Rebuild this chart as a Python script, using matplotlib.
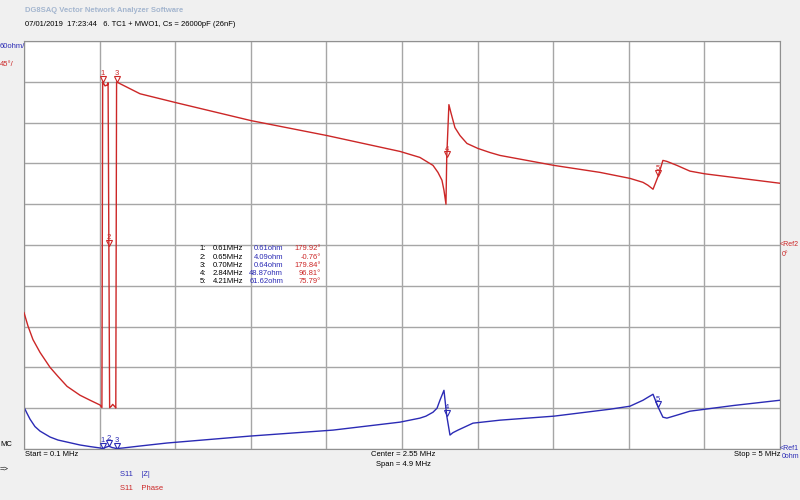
import matplotlib
matplotlib.use("Agg")
import matplotlib.pyplot as plt
import matplotlib.transforms as mtransforms

# sweep 0.1 .. 5 MHz, |Z| in ohm (trace 1), S11 phase in degrees (trace 2)
z_freq = [0.100, 0.119, 0.139, 0.171, 0.204, 0.236, 0.269, 0.320, 0.379, 0.463,
          0.530, 0.593, 0.61, 0.63, 0.65, 0.67, 0.70, 0.742, 0.852, 1.027,
          1.565, 2.103, 2.537, 2.666, 2.705, 2.751, 2.777, 2.796, 2.809, 2.822,
          2.84, 2.861, 2.880, 2.913, 3.010, 3.185, 3.535, 3.898, 4.027, 4.112,
          4.144, 4.177, 4.21, 4.241, 4.267, 4.332, 4.416, 4.70, 5.00]
z_ohm = [61.5, 52.7, 43.9, 33.0, 26.3, 22.0, 17.6, 13.2, 10.2, 5.9,
         3.5, 1.5, 0.61, 2.5, 4.09, 2.2, 0.64, 1.5, 4.4, 8.8,
         19.0, 27.8, 39.5, 45.4, 48.3, 54.1, 60.0, 71.7, 79.0, 86.3,
         48.87, 20.5, 24.0, 27.8, 38.0, 42.4, 48.3, 58.5, 62.9, 71.7,
         76.1, 80.5, 61.62, 46.8, 45.4, 49.8, 55.6, 64.0, 71.7]

ph_freq = [0.100, 0.126, 0.158, 0.204, 0.269, 0.320, 0.379, 0.463, 0.528, 0.593,
           0.605, 0.61, 0.625, 0.64, 0.645, 0.65, 0.655, 0.665, 0.675, 0.69,
           0.695, 0.70, 0.852, 1.085, 1.571, 2.064, 2.537, 2.666, 2.751, 2.783,
           2.809, 2.822, 2.835, 2.84, 2.854, 2.867, 2.893, 2.926, 2.971, 3.042,
           3.120, 3.185, 3.535, 3.833, 4.027, 4.112, 4.144, 4.177, 4.21, 4.241,
           4.267, 4.332, 4.416, 4.513, 5.00]
ph_deg = [-74.6, -89.5, -104.3, -118.5, -135.0, -144.9, -155.9, -165.7, -171.2, -176.5,
          -179.3, 179.92, 175.5, 176.5, 179.0, -0.76, -179.5, -178.0, -175.8, -178.5,
          -179.9, 179.84, 166.8, 157.0, 137.2, 120.7, 103.2, 96.6, 87.8, 80.1,
          71.4, 60.4, 45.0, 96.81, 154.8, 146.0, 129.5, 120.7, 112.0, 106.5,
          102.0, 98.8, 87.8, 80.1, 73.5, 69.1, 65.9, 61.5, 75.79, 93.3,
          92.2, 87.8, 81.5, 78.5, 68.1]

# marker table
mk_freq = [0.61, 0.65, 0.70, 2.84, 4.21]
mk_ohm = [0.61, 4.09, 0.64, 48.87, 61.62]
mk_deg = [179.92, -0.76, 179.84, 96.81, 75.79]

BLUE = "#2b2bb5"
RED = "#cc2727"
BG = "#f0f0f0"
FONT = "Liberation Sans"

W, H = 800, 500
fig = plt.figure(figsize=(W / 100, H / 100), dpi=100, facecolor=BG)


def px(x, y):
    # pixel position (from top-left) -> figure fraction
    return x / W, 1 - y / H


def label(x, y, s, color="black", ha="left", size=5.5, weight="normal"):
    fx, fy = px(x, y)
    fig.text(fx, fy, s, color=color, ha=ha, va="center", fontsize=size,
             fontweight=weight, family=FONT)


left, right, top, bottom = 24, 780, 41, 449
ax = fig.add_axes([left / W, 1 - bottom / H, (right - left) / W, (bottom - top) / H])
ax.set_facecolor("white")
ax.set_xlim(0.1, 5.0)
ax.set_ylim(0, 600)
ax.set_xticks([0.1 + 0.49 * i for i in range(11)])
ax.set_yticks([60 * i for i in range(11)])
ax.tick_params(length=0, labelbottom=False, labelleft=False)
ax.grid(True, color="#a6a6a6", lw=1)
for s in ax.spines.values():
    s.set_color("#909090")

ax2 = ax.twinx()
ax2.set_ylim(-225, 225)
ax2.set_yticks([])
for s in ax2.spines.values():
    s.set_visible(False)

ax.plot(z_freq, z_ohm, color=BLUE, lw=1)
ax2.plot(ph_freq, ph_deg, color=RED, lw=1)


def markers(a, ys, color):
    off = mtransforms.offset_copy(a.transData, fig=fig, x=0, y=3, units="dots")
    a.plot(mk_freq, ys, "v", ms=4, mfc="none", mec=color, mew=0.8,
           transform=off, clip_on=False)
    for i, (f, v) in enumerate(zip(mk_freq, ys)):
        a.annotate(str(i + 1), (f, v), xytext=(0, 8), textcoords="offset pixels",
                   ha="center", va="center", fontsize=5.5, color=color, family=FONT)


markers(ax, mk_ohm, BLUE)
markers(ax2, mk_deg, RED)

# header
label(25, 10, "DG8SAQ Vector Network Analyzer Software", color="#a4b6cf", size=5.5, weight="bold")
label(25, 24, "07/01/2019  17:23:44   6. TC1 + MWO1, Cs = 26000pF (26nF)")

# scale / reference labels
label(0, 46, "60ohm/", color=BLUE)
label(0, 64, "45°/", color=RED)
label(780, 245, "<Ref2", color=RED, size=5)
label(782, 254, "0°", color=RED, size=5)
label(780, 449, "<Ref1", color=BLUE, size=5)
label(782, 457, "0ohm", color=BLUE, size=5)
label(0, 444, "MC")
label(0, 469, "=>")

# frequency axis text
label(25, 455, "Start = 0.1 MHz")
label(403, 455, "Center = 2.55 MHz", ha="center")
label(403, 464, "Span = 4.9 MHz", ha="center")
label(780, 455, "Stop = 5 MHz", ha="right")

# trace legend
label(120, 475, "S11    |Z|", color=BLUE)
label(120, 489, "S11    Phase", color=RED)

# marker readout table
for i in range(len(mk_freq)):
    y = 249 + i * 8.2
    label(206, y, f"{i + 1}:", ha="right")
    label(243, y, f"{mk_freq[i]:.2f}MHz", ha="right")
    label(283, y, f"{mk_ohm[i]:.2f}ohm", color=BLUE, ha="right")
    label(321, y, f"{mk_deg[i]:.2f}°", color=RED, ha="right")

fig.savefig("out.png", dpi=100, facecolor=BG)
